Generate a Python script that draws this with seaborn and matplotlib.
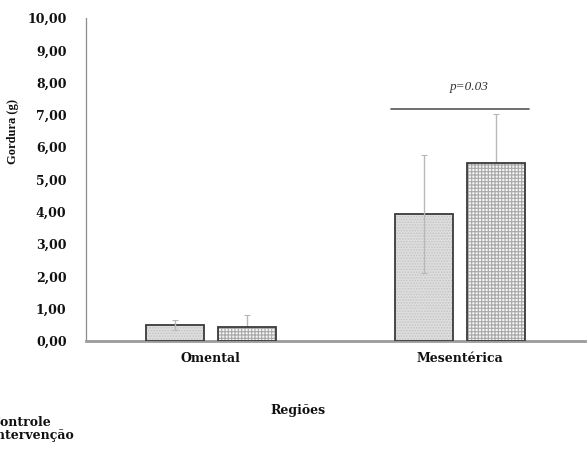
import numpy as np
import pandas as pd
import matplotlib
matplotlib.use("Agg")
import matplotlib.pyplot as plt
import matplotlib.patches as mpatches
import seaborn as sns

# ---- data ----
regions = ["Omental", "Mesentérica"]
groups = ["Controle", "Intervenção"]
controle_mean = [0.50, 3.93]
controle_sd = [0.15, 1.82]
intervencao_mean = [0.44, 5.50]
intervencao_sd = [0.38, 1.52]
y_ticks = [0, 1, 2, 3, 4, 5, 6, 7, 8, 9, 10]
p_text = "p=0.03"
p_level = 7.18

df = pd.DataFrame({
    "Regiões": regions * 2,
    "Grupo": [groups[0]] * 2 + [groups[1]] * 2,
    "Gordura": controle_mean + intervencao_mean,
})

sns.set_theme(style="white")
plt.rcParams["font.family"] = ["DejaVu Serif"]
plt.rcParams["hatch.linewidth"] = 0.8
plt.rcParams["text.color"] = "#111111"

fig = plt.figure(figsize=(5.87, 4.5), dpi=100)
ax = fig.add_axes([86 / 587, 109 / 450, 499 / 587, 323 / 450])

faces = ["#dedede", "#f4f4f4"]
hatches = ["......", "+++++"]
hatch_cols = ["#c4c4c4", "#a8a8a8"]
edge = "#3a3a3a"

sns.barplot(data=df, x="Regiões", y="Gordura", hue="Grupo", order=regions,
            hue_order=groups, errorbar=None, width=0.58, gap=0.2,
            palette=faces, ax=ax, legend=False)

n = len(regions)
bars = list(ax.patches[:2 * n])
for i, bar in enumerate(bars):
    g = i // n
    bar.set_hatch(hatches[g])
    bar.set_edgecolor(hatch_cols[g])
    bar.set_linewidth(0)
    bar.set_zorder(3)
    outline = mpatches.Rectangle((bar.get_x(), bar.get_y()), bar.get_width(),
                                 bar.get_height(), fill=False,
                                 edgecolor=edge, linewidth=1.3, zorder=3.5)
    ax.add_patch(outline)

# error bars from the bar patches
sds = [controle_sd, intervencao_sd]
for i, bar in enumerate(bars):
    g, k = divmod(i, n)
    xc = bar.get_x() + bar.get_width() / 2
    h = bar.get_height()
    ax.errorbar(xc, h, yerr=sds[g][k], fmt="none", ecolor="#b8b8b8",
                elinewidth=1.0, capsize=2.5, capthick=0.8,
                zorder=4 if g == 0 else 2)

# significance line
b_left = bars[1]
b_right = bars[n + 1]
x0 = b_left.get_x() - 0.015
x1 = b_right.get_x() + b_right.get_width() + 0.015
ax.plot([x0, x1], [p_level, p_level], color="#555555", lw=1.2, zorder=5)
ax.text((x0 + x1) / 2 + 0.035, p_level + 0.68, p_text,
        ha="center", va="center", fontsize=9.5, style="italic",
        family="Liberation Serif", color="#333333")

ax.set_xlim(-0.5, 1.5)
ax.set_ylim(0, 10)
ax.set_yticks(y_ticks)
ax.set_yticklabels([f"{v:.2f}".replace(".", ",") for v in y_ticks],
                   fontsize=9, fontweight="bold", color="#111111")
ax.tick_params(axis="y", length=0, pad=14)
ax.tick_params(axis="x", length=0, pad=8)
for lbl in ax.get_xticklabels():
    lbl.set_fontsize(9)
    lbl.set_fontweight("bold")
    lbl.set_color("#111111")

for s in ["top", "right"]:
    ax.spines[s].set_visible(False)
ax.spines["left"].set_color("#8c8c8c")
ax.spines["left"].set_linewidth(0.9)
ax.spines["bottom"].set_color("#9a9a9a")
ax.spines["bottom"].set_linewidth(2.0)

ax.set_ylabel("Gordura (g)", fontsize=9, fontweight="bold",
              family="Liberation Serif", color="#111111")
ax.yaxis.set_label_coords(-0.135, 0.65)
ax.set_xlabel("Regiões", fontsize=9, fontweight="bold", color="#111111")
ax.xaxis.set_label_coords((298 - 86) / 499, (341 - 404) / 323)

# legend, partly cut at the left edge like the reference
handles = [mpatches.Rectangle((0, 0), 1, 1, facecolor=c, edgecolor=edge, hatch=h)
           for c, h in zip(faces, hatches)]
leg = fig.legend(handles, groups, loc="upper left",
                 bbox_to_anchor=(-0.052, 1 - 416 / 450),
                 frameon=False, prop={"size": 9, "weight": "bold"},
                 handlelength=1.2, handleheight=0.9, handletextpad=0.5,
                 labelspacing=0.0, borderpad=0, borderaxespad=0)

fig.savefig("out.png", dpi=100, facecolor="white")
